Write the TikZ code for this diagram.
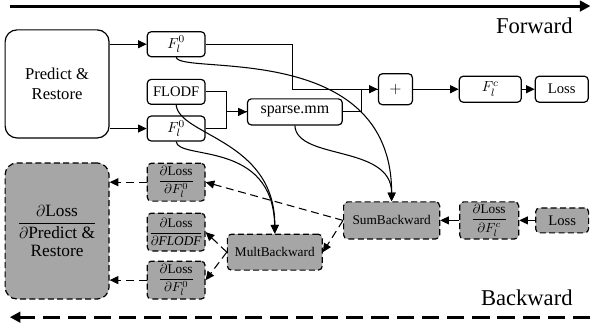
\documentclass[tikz,border=0pt]{standalone}
\usepackage{amsmath}
\usepackage{fontspec}
\setmainfont{Liberation Serif}
\usetikzlibrary{arrows.meta}

\begin{document}
\begin{tikzpicture}[
  block/.style={rectangle, draw, rounded corners=3pt, line width=0.9pt, minimum width=1.53cm, minimum height=0.66cm, inner sep=1pt, font=\fontsize{11}{13}\selectfont},
  gblock/.style={block, fill=gray!70, dash pattern=on 4.5pt off 2.5pt},
  grad/.style={gblock, minimum height=1cm, inner sep=0.5pt, font=\fontsize{10}{11}\selectfont},
  link/.style={->, line width=0.8pt},
  blink/.style={link, dash pattern=on 6pt off 3.5pt},
  flow/.style={->, line width=2.2pt, >={Triangle[length=8pt,width=8pt]}},
  >={Triangle[length=6.5pt,width=6pt]},
  node distance=2cm
]
\useasboundingbox (0,0) rectangle (15.66,-8.52);

% forward pass
\node[block, minimum width=2.75cm, minimum height=2.86cm, rounded corners=9pt, align=center, font=\fontsize{12.5}{15}\selectfont] (predict) at (1.51,-2.22) {Predict \&\\Restore};
\node[block, right of=predict, node distance=3.15cm, yshift=-0.21cm] (flodf) {FLODF};
\node[block, above of=flodf, node distance=1.26cm] (fa) {$F_l^0$};
\node[block, below of=flodf, node distance=0.97cm] (fb) {$F_l^0$};
\node[block, minimum width=2.51cm, minimum height=0.69cm, right of=flodf, node distance=3.14cm, yshift=-0.53cm, font=\fontsize{12}{14}\selectfont] (spmm) {sparse.mm};
\node[block, minimum width=0.9cm, minimum height=0.82cm, right of=spmm, node distance=2.66cm, yshift=0.6cm, font=\fontsize{12}{14}\selectfont] (plus) {$+$};
\node[block, minimum width=1.64cm, minimum height=0.69cm, right of=plus, node distance=2.51cm] (fc) {$F_l^c$};
\node[block, minimum width=1.4cm, minimum height=0.69cm, right of=fc, node distance=1.89cm] (loss) {Loss};

% backward pass
\node[gblock, minimum width=2.75cm, minimum height=3.6cm, rounded corners=9pt, align=center, font=\fontsize{13}{16}\selectfont, below of=predict, node distance=3.89cm] (dpred) {$\dfrac{\partial\text{Loss}}{\partial\text{Predict \&}}$\\[4pt]Restore};
\node[grad, below of=fb, node distance=1.42cm] (dfa) {$\dfrac{\partial\text{Loss}}{\partial F_l^0}$};
\node[grad, below of=dfa, node distance=1.32cm] (dflodf) {$\dfrac{\partial\text{Loss}}{\partial \mathit{FLODF}}$};
\node[grad, below of=dflodf, node distance=1.27cm] (dfb) {$\dfrac{\partial\text{Loss}}{\partial F_l^0}$};
\node[gblock, minimum width=2.51cm, minimum height=0.95cm, font=\fontsize{10}{12}\selectfont, right of=dflodf, node distance=2.61cm, yshift=-0.53cm] (mult) {MultBackward};
\node[gblock, minimum width=2.54cm, minimum height=0.98cm, font=\fontsize{10}{12}\selectfont, below of=plus, node distance=3.47cm, xshift=-0.1cm] (sum) {SumBackward};
\node[grad, minimum width=1.56cm, minimum height=0.98cm, right of=sum, node distance=2.58cm] (dfc) {$\dfrac{\partial\text{Loss}}{\partial F_l^c}$};
\node[gblock, minimum width=1.4cm, right of=dfc, node distance=1.93cm] (lossb) {Loss};

\node[anchor=east, font=\fontsize{17}{20}\selectfont] (fwd) at (15.27,-0.69) {Forward};
\node[anchor=east, font=\fontsize{17}{20}\selectfont] (bwd) at (15.27,-7.88) {Backward};
\coordinate (fwdstart) at (0.26,-0.16);
\coordinate (fwdend) at (15.62,-0.16);
\coordinate (bwdstart) at (15.62,-8.39);
\coordinate (bwdend) at (0.26,-8.39);

\draw[flow] (fwdstart) -- (fwdend);
\draw[flow, dash pattern=on 13pt off 6pt] (bwdstart) -- (bwdend);

\draw[link] (predict.east |- fa) -- (fa);
\draw[link] (predict.east |- fb) -- (fb);
\draw[link] (fa.east) -- ++(2.3,0) |- (plus.west);
\draw[line width=0.8pt] (spmm.east) -- ++(0.48,0) |- (plus.west);
\draw[link] (flodf.east) -- ++(0.56,0) |- (spmm.west);
\draw[line width=0.8pt] (fb.east) -- ++(0.56,0) |- (spmm.west);
\draw[link] (plus) -- (fc);
\draw[link] (fc) -- (loss);

\draw[link] (fa.south) .. controls +(0.1,-0.48) and +(0,4.29) .. (sum.north);
\draw[link] (spmm.south) .. controls +(0.05,-0.93) and +(0,1.51) .. (sum.north);
\draw[link] (flodf.south) .. controls +(0.08,-0.82) and +(0,2.49) .. (mult.north);
\draw[link] (fb.south) .. controls +(0.05,-0.5) and +(-0.05,2.49) .. (mult.north);

\draw[link] (lossb) -- (dfc);
\draw[link] (dfc) -- (sum);
\draw[blink] (sum.west) -- (dfa.east);
\draw[blink] (sum.west) -- (mult.east);
\draw[blink] (mult.west) -- (dflodf.east);
\draw[blink] (mult.west) -- (dfb.east);
\draw[blink] (dfa.west) -- (dpred.east |- dfa.west);
\draw[blink] (dfb.west) -- (dpred.east |- dfb.west);
\end{tikzpicture}
\end{document}
